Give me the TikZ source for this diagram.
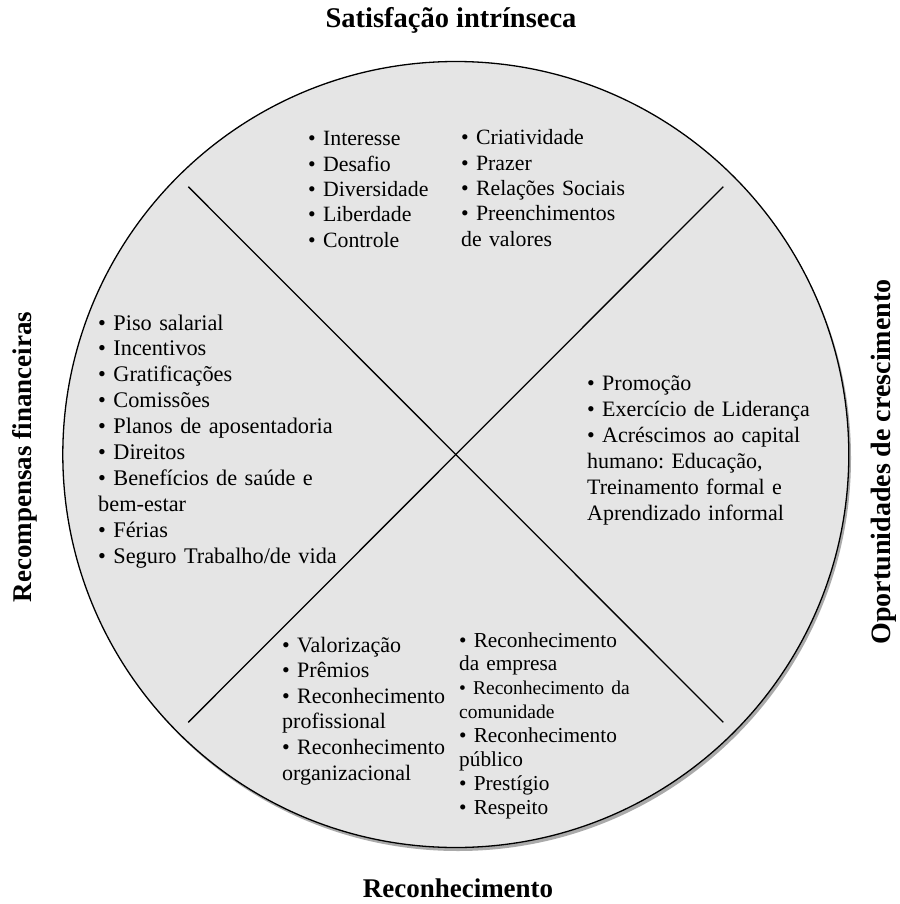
\documentclass[tikz,border=0pt]{standalone}
\usepackage{fontspec}
\setmainfont{Liberation Serif}
\definecolor{discfill}{RGB}{229,229,229}
\definecolor{shadowgray}{RGB}{170,170,170}
\begin{document}
\frenchspacing
\begin{tikzpicture}[x=1pt,y=-1pt,
  body/.style={anchor=base west, inner sep=0pt, text width=260pt, align=left},
  lbl/.style={inner sep=0pt, font=\fontsize{27}{30}\selectfont\bfseries},
  divider/.style={line width=1.3pt, black}]
\useasboundingbox (0,0) rectangle (899,904);
% disc with shadow
\fill[shadowgray] (458,458) circle (393);
\draw[fill=discfill, line width=1.3pt] (455.8,454.5) circle (393);
\coordinate (c) at (455.8,454.5);
\coordinate (tl) at (188.3,186.7);
\coordinate (tr) at (723.3,186.7);
\coordinate (bl) at (188.3,722.3);
\coordinate (br) at (723.3,722.3);
\draw[divider] (tl) -- (br);
\draw[divider] (tr) -- (bl);
% labels
\node[lbl, anchor=base, font=\fontsize{28.5}{30}\selectfont\bfseries] (top) at (451,28) {Satisfação intrínseca};
\node[lbl, anchor=base] (bottom) at (458,897) {Reconhecimento};
\node[lbl, anchor=base, rotate=90] (left) at (31,457) {Recompensas financeiras};
\node[lbl, anchor=base, rotate=90, font=\fontsize{28}{30}\selectfont\bfseries] (right) at (890,462) {Oportunidades de crescimento};
% top quadrant
\node[body, font=\fontsize{21.8}{25.3}\selectfont] (t1) at (308,146) {•~Interesse\\•~Desafio\\•~Diversidade\\•~Liberdade\\•~Controle};
\node[body, font=\fontsize{21.8}{25.3}\selectfont] (t2) at (461,145) {•~Criatividade\\•~Prazer\\•~Relações Sociais\\•~Preenchimentos\\de valores};
% left quadrant
\node[body, font=\fontsize{22.3}{25.9}\selectfont] (l1) at (98,330) {•~Piso salarial\\•~Incentivos\\•~Gratificações\\•~Comissões\\•~Planos de aposentadoria\\•~Direitos\\•~Benefícios de saúde e\\bem-estar\\•~Férias\\•~Seguro Trabalho/de vida};
% right quadrant
\node[body, font=\fontsize{22}{26}\selectfont] (r1) at (587,390) {•~Promoção\\•~Exercício de Liderança\\•~Acréscimos ao capital\\humano: Educação,\\Treinamento formal e\\Aprendizado informal};
% bottom quadrant
\node[body, font=\fontsize{22}{25.6}\selectfont] (b1) at (282,652) {•~Valorização\\•~Prêmios\\•~Reconhecimento\\profissional\\•~Reconhecimento\\organizacional};
\node[body, font=\fontsize{21.3}{23.9}\selectfont] (b2) at (459,647) {•~Reconhecimento\\da empresa\\{\fontsize{19.5}{23.9}\selectfont •~Reconhecimento da}\\{\fontsize{19.5}{23.9}\selectfont comunidade}\\•~Reconhecimento\\público\\•~Prestígio\\•~Respeito};
\end{tikzpicture}
\end{document}
